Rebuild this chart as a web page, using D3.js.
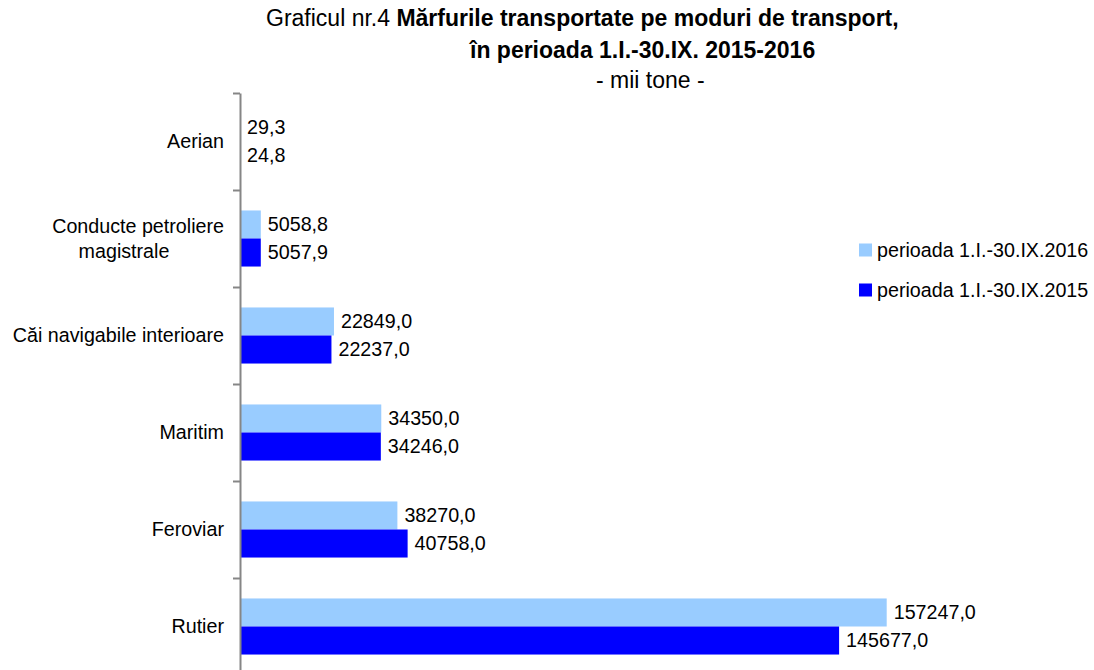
<!DOCTYPE html>
<html>
<head>
<meta charset="utf-8">
<script src="https://cdn.jsdelivr.net/npm/d3@7"></script>
<style>
  body { margin: 0; background: #fff; }
  svg text { font-family: "Liberation Sans", Arial, sans-serif; fill: #000; }
</style>
</head>
<body>
<svg id="chart"></svg>
<script>
const categories = ["Aerian", "Conducte petroliere\nmagistrale", "Căi navigabile interioare", "Maritim", "Feroviar", "Rutier"];
const values2016 = [29.3, 5058.8, 22849.0, 34350.0, 38270.0, 157247.0];
const values2015 = [24.8, 5057.9, 22237.0, 34246.0, 40758.0, 145677.0];
const seriesNames = ["perioada 1.I.-30.IX.2016", "perioada 1.I.-30.IX.2015"];
const seriesColors = ["#99ccff", "#0000ff"];

const width = 1094;
const height = 670;
const fontSize = "19.7px";
const titleSize = "23px";
const axisX = 240;
const plotTop = 93;
const step = 97;

const svg = d3.select("#chart")
  .attr("width", width)
  .attr("height", height);

const rows = categories.map((c, i) => ({ category: c, values: [values2016[i], values2015[i]] }));

const x = d3.scaleLinear()
  .domain([0, 180000])
  .range([axisX, axisX + 180000 * 0.0041126]);

const y0 = d3.scaleBand()
  .domain(categories)
  .range([plotTop, plotTop + step * categories.length])
  .padding(0);

const y1 = d3.scaleBand()
  .domain([0, 1])
  .range([0, y0.bandwidth()])
  .paddingInner(0)
  .paddingOuter(0.73);

const fmt = v => d3.format(".1f")(v).replace(".", ",");

// bars
const groups = svg.selectAll("g.row")
  .data(rows)
  .enter()
  .append("g")
  .attr("class", "row")
  .attr("transform", d => `translate(0,${y0(d.category)})`);

groups.selectAll("rect")
  .data(d => d.values)
  .enter()
  .append("rect")
  .attr("x", x(0) + 1)
  .attr("y", (d, i) => y1(i))
  .attr("width", d => Math.max(0, x(d) - x(0) - 1))
  .attr("height", y1.bandwidth())
  .attr("fill", (d, i) => seriesColors[i]);

groups.selectAll("text.val")
  .data(d => d.values)
  .enter()
  .append("text")
  .attr("class", "val")
  .attr("x", d => x(d) + 7)
  .attr("y", (d, i) => y1(i) + y1.bandwidth() / 2)
  .attr("dy", "0.35em")
  .style("font-size", fontSize)
  .text(fmt);

// axis with ticks at band boundaries
const yEdge = d3.scaleLinear()
  .domain([0, categories.length])
  .range([plotTop, plotTop + step * categories.length]);

const axis = svg.append("g")
  .attr("transform", `translate(${axisX},0)`)
  .call(d3.axisLeft(yEdge).ticks(categories.length).tickSize(7).tickSizeOuter(0).tickFormat(""));
axis.selectAll("path, line").attr("stroke", "#868686").attr("stroke-width", 2);

// category labels
svg.selectAll("text.cat")
  .data(categories)
  .enter()
  .append("text")
  .attr("class", "cat")
  .style("font-size", fontSize)
  .each(function(d) {
    const lines = d.split("\n");
    const cy = y0(d) + y0.bandwidth() / 2;
    const t = d3.select(this);
    lines.forEach((ln, j) => {
      t.append("tspan")
        .attr("x", j === 0 ? 224 : 124)
        .attr("text-anchor", j === 0 ? "end" : "middle")
        .attr("y", cy + (j - (lines.length - 1) / 2) * 25)
        .attr("dy", "0.35em")
        .text(ln);
    });
  });

// title
const t1 = svg.append("text")
  .attr("x", 266)
  .attr("y", 26)
  .style("font-size", titleSize);
t1.append("tspan").text("Graficul nr.4 ");
t1.append("tspan").style("font-weight", "bold").text("Mărfurile transportate pe moduri de transport,");

svg.append("text")
  .attr("x", 470)
  .attr("y", 58)
  .style("font-size", titleSize)
  .style("font-weight", "bold")
  .text("în perioada 1.I.-30.IX. 2015-2016");

svg.append("text")
  .attr("x", 596)
  .attr("y", 88)
  .style("font-size", titleSize)
  .text("- mii tone -");

// legend
const legend = svg.selectAll("g.legend")
  .data(seriesNames)
  .enter()
  .append("g")
  .attr("class", "legend")
  .attr("transform", (d, i) => `translate(859,${250 + i * 40})`);

legend.append("rect")
  .attr("x", 0)
  .attr("y", -6.5)
  .attr("width", 13)
  .attr("height", 13)
  .attr("fill", (d, i) => seriesColors[i]);

legend.append("text")
  .attr("x", 18)
  .attr("y", 0)
  .attr("dy", "0.35em")
  .style("font-size", fontSize)
  .text(d => d);
</script>
</body>
</html>
